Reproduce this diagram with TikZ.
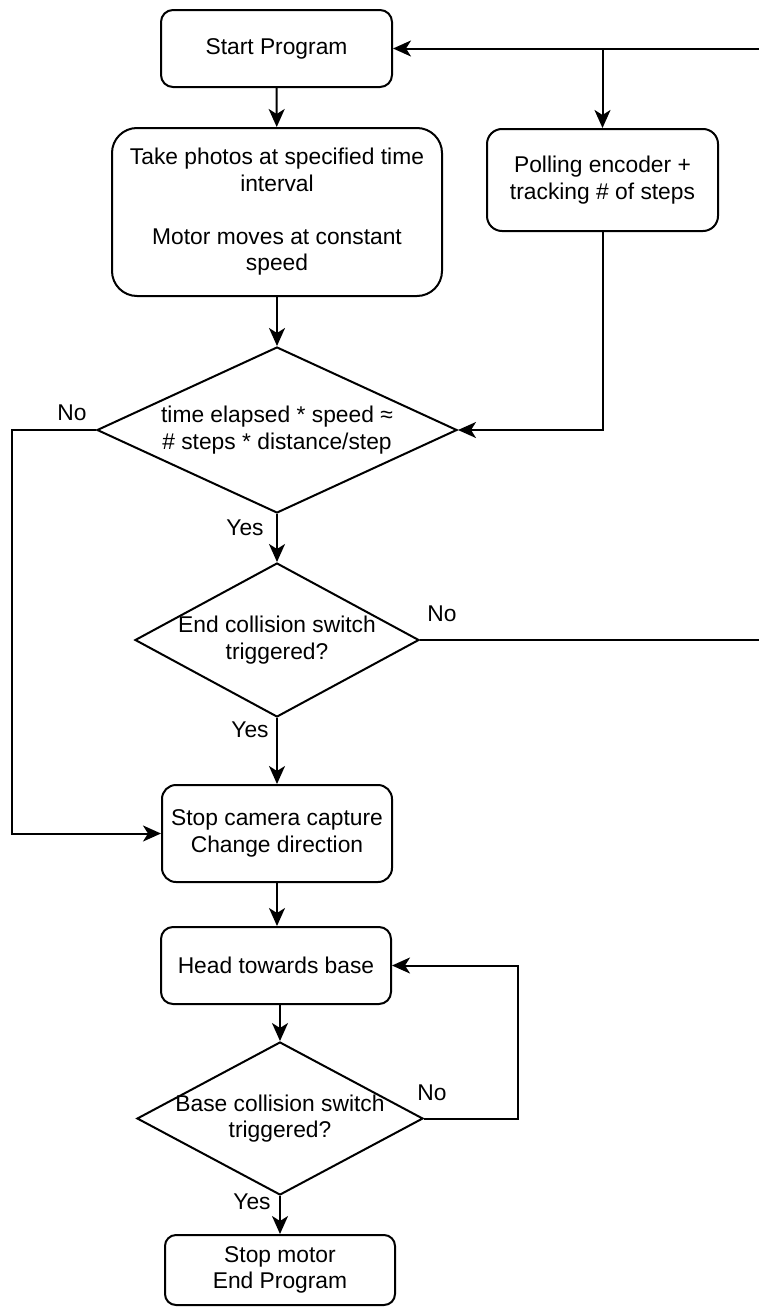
\documentclass[tikz,border=0pt]{standalone}
\usepackage{fontspec}
\setmainfont{Liberation Sans}
\usetikzlibrary{shapes.geometric,arrows.meta}
\tikzset{
  procbox/.style={draw, line width=2pt, rounded corners=12pt, align=center, inner sep=0pt},
  decision/.style={draw, diamond, line width=2pt, align=center, inner sep=-12pt},
  flow/.style={line width=2pt, -{Stealth[length=18pt,width=16pt,inset=5pt]}},
  lbl/.style={inner sep=0pt}
}
\begin{document}
\begin{tikzpicture}[x=1pt, y=-1pt, font=\fontsize{22.8}{26.5}\selectfont]
  \useasboundingbox (0,0) rectangle (758,1309);
  % boxes
  \node[procbox, minimum width=231pt, minimum height=77pt] (start) at (276.5,48.5) {Start Program};
  \node[procbox, minimum width=330pt, minimum height=168pt, rounded corners=25pt] (photos) at (277,212)
    {Take photos at specified time\\interval\\[26.5pt]Motor moves at constant\\speed};
  \node[procbox, minimum width=231pt, minimum height=102pt, rounded corners=15pt] (poll) at (602.5,180) {Polling encoder +\\tracking \# of steps};
  \node[decision, aspect=2.169, minimum width=360pt, minimum height=166pt] (check) at (277,430) {time elapsed * speed ≈\\\# steps * distance/step};
  \node[decision, aspect=1.844, minimum width=284pt, minimum height=154pt] (endsw) at (277,640) {End collision switch\\triggered?};
  \node[procbox, minimum width=230pt, minimum height=97pt, rounded corners=14pt] (stopcam) at (277,833.5) {Stop camera capture\\Change direction};
  \node[procbox, minimum width=230pt, minimum height=77pt] (head) at (276,965.5) {Head towards base};
  \node[decision, aspect=1.869, minimum width=286pt, minimum height=153pt] (basesw) at (280,1118.5) {Base collision switch\\triggered?};
  \node[procbox, minimum width=230pt, minimum height=70pt, rounded corners=11pt] (stopmotor) at (280,1270) {Stop motor\\End Program};
  % rails
  \coordinate (leftrail) at (12,0);
  \coordinate (rightrail) at (762,0);
  \coordinate (looprail) at (518,0);
  % labels
  \node[lbl] (noA) at (72,413) {No};
  \node[lbl] (yesA) at (245,528) {Yes};
  \node[lbl] (noB) at (442,614) {No};
  \node[lbl] (yesB) at (250,730) {Yes};
  \node[lbl] (noC) at (432,1093) {No};
  \node[lbl] (yesC) at (252,1202) {Yes};
  % connectors
  \draw[flow] (start) -- (photos);
  \draw[flow] (photos) -- (check);
  \draw[flow] (poll.south) |- (check.east);
  \draw[flow] (check.west) -- (check.west -| leftrail) |- (stopcam.west);
  \draw[flow] (check.south) -- (endsw.north);
  \draw[flow] (endsw.east) -- (endsw.east -| rightrail) |- (start.east);
  \draw[flow] (start.east -| poll.north) -- (poll.north);
  \draw[flow] (endsw.south) -- (stopcam.north);
  \draw[flow] (stopcam.south) -- (stopcam.south |- head.north);
  \draw[flow] (head.south -| basesw.north) -- (basesw.north);
  \draw[flow] (basesw.east) -- (basesw.east -| looprail) |- (head.east);
  \draw[flow] (basesw.south) -- (stopmotor.north);
\end{tikzpicture}
\end{document}
